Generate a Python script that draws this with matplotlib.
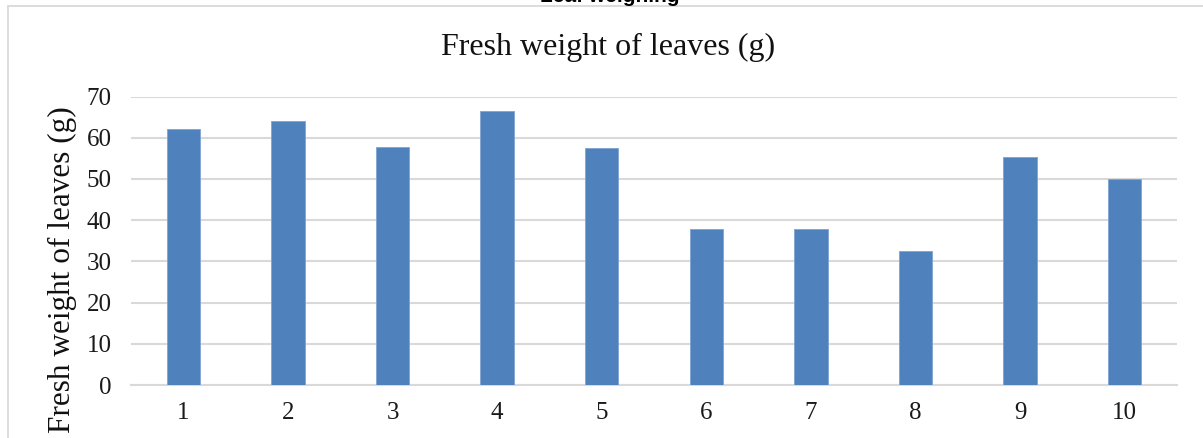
import matplotlib
matplotlib.use("Agg")
import matplotlib.pyplot as plt
from matplotlib.patches import Rectangle

# Sample numbers and measured fresh weight of leaves (g)
samples = ["1", "2", "3", "4", "5", "6", "7", "8", "9", "10"]
fresh_weight = [62.0, 64.1, 57.8, 66.6, 57.6, 37.9, 37.8, 32.4, 55.3, 49.9]
y_ticks = [0, 10, 20, 30, 40, 50, 60, 70]

W, H = 1203, 438
fig = plt.figure(figsize=(W / 100, H / 100), dpi=100)
fig.patch.set_facecolor("white")

serif = ["Liberation Serif", "DejaVu Serif"]
grid_color = "#d9d9d9"

# Chart frame (top and left edges visible)
fig.patches.append(Rectangle((8 / W, -0.05), 1.2, 1 - 6 / H + 0.05,
                             transform=fig.transFigure, fill=False,
                             edgecolor=grid_color, linewidth=1.3))

# Heading above the chart frame, mostly out of view
fig.text(610 / W, 1 - 2 / H, "Leaf weighing", ha="center", va="baseline",
         fontsize=15, fontweight="bold", family=["Liberation Sans", "DejaVu Sans"])

left, right = 131 / W, 1177 / W
bottom, top = (H - 385) / H, (H - 96.5) / H
ax = fig.add_axes([left, bottom, right - left, top - bottom])

x = list(range(len(samples)))
ax.bar(x, fresh_weight, width=0.32, color="#4f81bd", edgecolor="#7ea3d3",
       linewidth=0.6, zorder=3)

ax.set_xlim(-0.5, len(samples) - 0.5)
ax.set_ylim(0, 70)
ax.set_yticks(y_ticks)
ax.set_xticks(x)
ax.set_xticklabels(samples)

ax.yaxis.grid(True, color=grid_color, linewidth=1.5, zorder=0)
ax.set_axisbelow(True)
for side in ("top", "right", "left"):
    ax.spines[side].set_visible(False)
ax.spines["bottom"].set_color(grid_color)
ax.spines["bottom"].set_linewidth(1.5)

ax.tick_params(axis="both", length=0, labelsize=18, labelcolor="#1a1a1a")
ax.tick_params(axis="y", pad=14)
ax.tick_params(axis="x", pad=12)
for lab in ax.get_xticklabels() + ax.get_yticklabels():
    lab.set_family(serif)

fig.text(608 / W, 1 - 47 / H, "Fresh weight of leaves (g)", ha="center",
         va="center", fontsize=23, family=serif, color="#111111")
fig.text(62 / W, 1 - 270 / H, "Fresh weight of leaves (g)", ha="center",
         va="center", rotation=90, fontsize=22.5, family=serif, color="#111111")

fig.savefig("out.png", dpi=100)
